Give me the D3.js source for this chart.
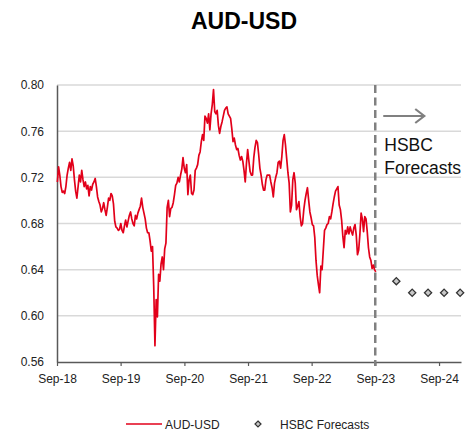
<!DOCTYPE html>
<html>
<head>
<meta charset="utf-8">
<script src="https://cdn.jsdelivr.net/npm/d3@7"></script>
<style>
  html, body { margin: 0; padding: 0; background: #fff; }
  svg { display: block; font-family: "Liberation Sans", Arial, sans-serif; }
</style>
</head>
<body>
<svg id="chart" width="470" height="435"></svg>
<script>
// ---- Data (weekly AUD-USD) ----
const seriesStart = "2018-09-03"; // first weekly observation
const aud2018 = [0.716,0.729,0.722,0.712,0.707,0.708,0.706,0.712,0.722,0.728,
  0.733,0.726,0.736,0.730,0.718,0.708,0.702,0.712,0.722,0.716,
  0.726,0.718,0.712,0.716,0.710,0.713,0.704,0.712,0.709,0.714,
  0.716,0.719,0.712,0.703,0.699,0.696,0.690,0.693,0.698,0.692,
  0.687,0.694,0.702,0.700,0.706,0.704,0.697,0.682,0.677,0.676,
  0.674,0.675];
const aud2019 = [0.680,0.674,0.672,0.678,0.683,0.677,0.682,0.687,0.690,0.684,
  0.680,0.678,0.687,0.684,0.689,0.692,0.695,0.702,0.694,0.689,
  0.684,0.676,0.672,0.672,0.665,0.656,0.660,0.625,0.574,0.614,
  0.599,0.636,0.630,0.645,0.651,0.640,0.658,0.663,0.694,0.700,
  0.686,0.693,0.694,0.698,0.705,0.713,0.715,0.720,0.716,0.722,
  0.727,0.737];
const aud2020 = [0.728,0.724,0.731,0.705,0.718,0.722,0.706,0.705,0.709,0.726,
  0.728,0.731,0.739,0.742,0.751,0.757,0.752,0.773,0.771,0.767,
  0.775,0.761,0.775,0.783,0.796,0.777,0.775,0.778,0.765,0.758,
  0.764,0.768,0.773,0.778,0.780,0.781,0.775,0.773,0.771,0.762,
  0.751,0.754,0.748,0.744,0.745,0.739,0.735,0.738,0.734,0.726,
  0.716,0.732];
const aud2021 = [0.744,0.734,0.725,0.722,0.722,0.737,0.746,0.752,0.750,0.740,
  0.728,0.722,0.714,0.709,0.709,0.718,0.722,0.722,0.722,0.716,
  0.711,0.703,0.715,0.720,0.724,0.733,0.734,0.728,0.738,0.752,
  0.757,0.748,0.736,0.724,0.715,0.690,0.696,0.718,0.724,0.715,
  0.692,0.695,0.699,0.686,0.678,0.680,0.692,0.700,0.706,0.711,
  0.700,0.690];
const aud2022 = [0.685,0.679,0.678,0.668,0.648,0.635,0.627,0.620,0.643,0.640,
  0.657,0.674,0.676,0.679,0.680,0.686,0.684,0.690,0.697,0.703,
  0.708,0.710,0.712,0.696,0.692,0.683,0.669,0.659,0.674,0.671,
  0.677,0.671,0.677,0.673,0.670,0.676,0.679,0.670,0.653,0.657,
  0.671,0.689,0.684,0.673,0.686,0.684,0.673,0.659,0.651,0.648,
  0.641,0.644,0.640,0.638];

const forecastDates = ["2023-12-31","2024-03-31","2024-06-30","2024-09-30","2024-12-31"];
const forecastValues = [0.63, 0.62, 0.62, 0.62, 0.62];

const yTicks = [0.56, 0.60, 0.64, 0.68, 0.72, 0.76, 0.80];
const xTickYears = [2018, 2019, 2020, 2021, 2022, 2023, 2024];
const forecastStartDate = "2023-09-01";
const chartTitle = "AUD-USD";
const legendLabels = ["AUD-USD", "HSBC Forecasts"];
const annotationLines = ["HSBC", "Forecasts"];

// ---- Build ----
(function () {
const parse = d3.utcParse("%Y-%m-%d");
const allValues = [].concat(aud2018, aud2019, aud2020, aud2021, aud2022);
const t0 = parse(seriesStart);
const audData = allValues.map((v, i) => ({ date: d3.utcDay.offset(t0, 7 * i), value: v }));
const fcData = forecastDates.map((d, i) => ({ date: parse(d), value: forecastValues[i] }));

const svg = d3.select("#chart");
const pL = 57, pR = 461, pT = 85, pB = 362;

const x = d3.scaleUtc()
  .domain([parse("2018-09-01"), parse("2025-01-05")])
  .range([pL, pR]);
const y = d3.scaleLinear().domain([0.56, 0.80]).range([pB, pT]);

const red = "#e2001a";
const gray = "#808080";
const fontFam = "'Liberation Sans', Arial, sans-serif";

// Title
svg.append("text")
  .attr("x", 244).attr("y", 28.5)
  .attr("text-anchor", "middle")
  .attr("font-size", 23).attr("font-weight", "bold")
  .attr("fill", "#000")
  .text(chartTitle);

// Gridlines
svg.append("g").selectAll("line")
  .data(yTicks.filter(t => t > 0.56))
  .join("line")
  .attr("x1", pL).attr("x2", pR)
  .attr("y1", d => y(d)).attr("y2", d => y(d))
  .attr("stroke", "#d9d9d9").attr("stroke-width", 1.5);

// Y axis
const yAxis = svg.append("g")
  .attr("transform", `translate(${pL},0)`)
  .call(d3.axisLeft(y).tickValues(yTicks).tickFormat(d3.format(".2f")).tickSize(0).tickPadding(13));
yAxis.select(".domain").attr("stroke", "#595959").attr("stroke-width", 1.5);
yAxis.selectAll("text").attr("font-size", 12).attr("fill", "#222").attr("font-family", fontFam);

// X axis
const xTicks = xTickYears.map(yr => parse(`${yr}-09-01`));
const xAxis = svg.append("g")
  .attr("transform", `translate(0,${pB})`)
  .call(d3.axisBottom(x).tickValues(xTicks).tickFormat(d3.utcFormat("%b-%y"))
    .tickSizeInner(4).tickSizeOuter(0).tickPadding(8));
xAxis.select(".domain").attr("stroke", "#595959").attr("stroke-width", 1.5);
xAxis.selectAll(".tick line").attr("stroke", "#595959").attr("stroke-width", 1.2);
xAxis.selectAll("text").attr("font-size", 12).attr("fill", "#222").attr("font-family", fontFam);

// Forecast divider
const fx = x(parse(forecastStartDate));
svg.append("line")
  .attr("x1", fx).attr("x2", fx).attr("y1", pT).attr("y2", pB + 4)
  .attr("stroke", gray).attr("stroke-width", 2.5).attr("stroke-dasharray", "8,4.5");

// AUD-USD line
svg.append("path")
  .datum(audData)
  .attr("fill", "none")
  .attr("stroke", red).attr("stroke-width", 1.7)
  .attr("stroke-linejoin", "round")
  .attr("d", d3.line().x(d => x(d.date)).y(d => y(d.value)));

// Forecast diamonds
const diamond = (cx, cy, r) => `M${cx},${cy - r}L${cx + r},${cy}L${cx},${cy + r}L${cx - r},${cy}Z`;
svg.append("g").selectAll("path")
  .data(fcData)
  .join("path")
  .attr("d", d => diamond(x(d.date), y(d.value), 3.6))
  .attr("fill", "#c8c8c8").attr("stroke", "#333").attr("stroke-width", 1.3);

// Annotation arrow + text
const ay = 116;
svg.append("line")
  .attr("x1", fx + 8).attr("x2", fx + 49).attr("y1", ay).attr("y2", ay)
  .attr("stroke", gray).attr("stroke-width", 2.2);
svg.append("path")
  .attr("d", `M${fx + 40},${ay - 7}L${fx + 49},${ay}L${fx + 40},${ay + 7}`)
  .attr("fill", "none").attr("stroke", gray).attr("stroke-width", 2.2);
svg.append("text")
  .attr("x", fx + 9).attr("y", 151)
  .attr("font-size", 17.5).attr("fill", "#111")
  .text(annotationLines[0]);
svg.append("text")
  .attr("x", fx + 9).attr("y", 174)
  .attr("font-size", 17.5).attr("fill", "#111")
  .text(annotationLines[1]);

// Legend
const ly = 424;
svg.append("line")
  .attr("x1", 126).attr("x2", 162).attr("y1", ly).attr("y2", ly)
  .attr("stroke", red).attr("stroke-width", 1.5);
svg.append("text")
  .attr("x", 165).attr("y", ly + 4.5)
  .attr("font-size", 12).attr("fill", "#222")
  .text(legendLabels[0]);
svg.append("path")
  .attr("d", diamond(258, ly, 3))
  .attr("fill", "#c8c8c8").attr("stroke", "#333").attr("stroke-width", 1.2);
svg.append("text")
  .attr("x", 280).attr("y", ly + 4.5)
  .attr("font-size", 12).attr("fill", "#222")
  .text(legendLabels[1]);
})();
</script>
</body>
</html>
